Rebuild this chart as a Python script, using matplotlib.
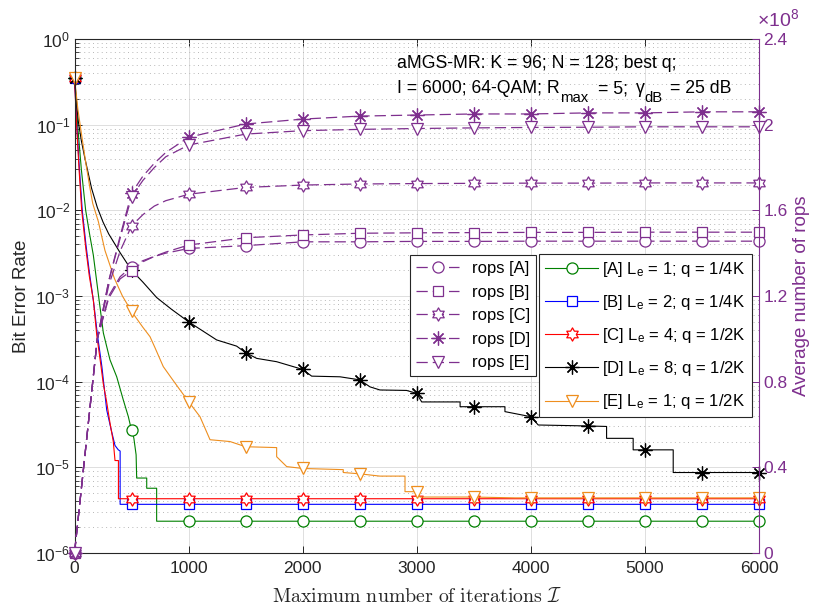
import numpy as np
import matplotlib
matplotlib.use('Agg')
import matplotlib.pyplot as plt
from matplotlib.path import Path

plt.rcParams['font.family'] = ['Liberation Sans', 'DejaVu Sans']
plt.rcParams['mathtext.fontset'] = 'custom'
plt.rcParams['mathtext.rm'] = 'Liberation Sans'
plt.rcParams['mathtext.it'] = 'Liberation Sans:italic'
plt.rcParams['mathtext.bf'] = 'Liberation Sans:bold'
plt.rcParams['mathtext.sf'] = 'Liberation Sans'

# ---------------- data ----------------
# BER curves (left axis)
I_A = [0, 30, 60, 98, 130, 165, 209, 253, 311, 370, 428, 472, 500, 520, 540, 545, 633, 633, 720, 720,
       1000, 1500, 2000, 2500, 3000, 3500, 4000, 4500, 5000, 5500, 6000]
ber_A = [0.35, 0.09, 0.03, 0.01, 5.5e-3, 3.0e-3, 1.05e-3, 3.7e-4, 1.8e-4, 1.14e-4, 6.1e-5, 3.9e-5, 2.7e-5,
         2.2e-5, 1.4e-5, 7.5e-6, 7.5e-6, 5.7e-6, 5.7e-6] + [2.35e-6] * 12

I_B = [0, 20, 40, 68, 100, 130, 170, 200, 240, 282, 320, 355, 384, 400, 400, 500,
       1000, 1500, 2000, 2500, 3000, 3500, 4000, 4500, 5000, 5500, 6000]
ber_B = [0.35, 0.1, 0.035, 0.01, 4e-3, 1.9e-3, 8e-4, 3.6e-4, 1.5e-4, 4.7e-5, 2.8e-5, 1.8e-5, 1.6e-5,
         1.55e-5] + [3.7e-6] * 13

I_C = [0, 20, 40, 63, 100, 130, 165, 195, 230, 252, 280, 311, 340, 355, 385, 385, 500,
       1000, 1500, 2000, 2500, 3000, 3500, 4000, 4500, 5000, 5500, 6000]
ber_C = [0.35, 0.09, 0.03, 0.01, 3.5e-3, 1.7e-3, 9e-4, 3.5e-4, 1.6e-4, 9.5e-5, 6e-5, 3.3e-5, 2.0e-5,
         1.2e-5, 1.2e-5] + [4.3e-6] * 13

I_D = [0, 33, 60, 92, 150, 200, 250, 300, 400, 500, 600, 720, 850, 1000, 1100, 1246, 1421, 1500, 1597,
       1772, 2000, 2079, 2327, 2500, 2590, 2677, 2911, 3000, 3043, 3380, 3380, 3500, 3773, 3773, 4000,
       4065, 4500, 4664, 4664, 4897, 4897, 5000, 5248, 5248, 5500, 6000]
ber_D = [0.35, 0.11, 0.065, 0.04, 0.018, 0.0108, 7.3e-3, 5.3e-3, 3.2e-3, 2.0e-3, 1.45e-3, 9.6e-4, 7.0e-4,
         5.0e-4, 4.1e-4, 3.07e-4, 2.6e-4, 2.18e-4, 1.87e-4, 1.71e-4, 1.39e-4, 1.16e-4, 1.14e-4, 1.05e-4,
         8.7e-5, 8.0e-5, 7.9e-5, 7.3e-5, 5.8e-5, 5.8e-5, 5.1e-5, 5.1e-5, 5.1e-5, 4.47e-5, 3.9e-5,
         3.12e-5, 3.04e-5, 3.0e-5, 2.18e-5, 2.18e-5, 1.6e-5, 1.6e-5, 1.6e-5, 8.7e-6, 8.7e-6, 8.7e-6]

I_E = [0, 30, 63, 100, 136, 160, 209, 267, 350, 420, 500, 600, 662, 705, 778, 850, 925, 1000, 1100, 1188,
       1363, 1500, 1772, 1772, 1860, 2000, 2356, 2356, 2500, 2677, 2897, 2897, 3000, 3028, 3500, 3861,
       4000, 4500, 5000, 5500, 6000]
ber_E = [0.35, 0.15, 0.075, 0.035, 0.018, 0.012, 7.4e-3, 3.4e-3, 1.6e-3, 1.0e-3, 6.6e-4, 4.3e-4, 3.35e-4,
         2.5e-4, 1.5e-4, 1.1e-4, 8e-5, 5.85e-5, 3.9e-5, 2.1e-5, 2.0e-5, 1.74e-5, 1.7e-5, 1.33e-5, 1.02e-5,
         9.7e-6, 9.4e-6, 8.7e-6, 8.4e-6, 7.9e-6, 7.9e-6, 5.2e-6, 5.2e-6, 4.5e-6, 4.5e-6, 4.4e-6, 4.4e-6,
         4.4e-6, 4.4e-6, 4.4e-6, 4.4e-6]

# average number of rops (right axis, in units of 1e8)
I_rops = [0, 100, 200, 300, 400, 500, 600, 700, 800, 1000, 1500, 2000, 2500, 3000, 3500, 4000,
          4500, 5000, 5500, 6000]
rops_A = [0, 0.5, 1.0, 1.20, 1.29, 1.337, 1.365, 1.385, 1.40, 1.422, 1.435, 1.453, 1.453, 1.455, 1.455,
          1.456, 1.456, 1.456, 1.456, 1.456]
rops_B = [0, 0.5, 1.0, 1.19, 1.28, 1.318, 1.36, 1.385, 1.405, 1.438, 1.472, 1.485, 1.493, 1.495, 1.496,
          1.497, 1.497, 1.498, 1.498, 1.498]
rops_C = [0, 0.5, 1.0, 1.25, 1.41, 1.527, 1.58, 1.62, 1.645, 1.675, 1.707, 1.718, 1.723, 1.725, 1.726,
          1.727, 1.727, 1.728, 1.728, 1.728]
rops_D = [0, 0.5, 1.0, 1.27, 1.48, 1.68, 1.76, 1.82, 1.87, 1.941, 2.003, 2.026, 2.040, 2.045, 2.05,
          2.05, 2.055, 2.055, 2.06, 2.06]
rops_E = [0, 0.5, 1.0, 1.27, 1.47, 1.663, 1.74, 1.80, 1.85, 1.905, 1.956, 1.972, 1.978, 1.982, 1.985,
          1.987, 1.988, 1.99, 1.99, 1.99]

ber_labels = ['[A] L$_{\\mathrm{e}}$ = 1; q = 1/4K', '[B] L$_{\\mathrm{e}}$ = 2; q = 1/4K',
              '[C] L$_{\\mathrm{e}}$ = 4; q = 1/2K', '[D] L$_{\\mathrm{e}}$ = 8; q = 1/2K',
              '[E] L$_{\\mathrm{e}}$ = 1; q = 1/2K']
rops_labels = ['rops [A]', 'rops [B]', 'rops [C]', 'rops [D]', 'rops [E]']
x_ticks = [0, 1000, 2000, 3000, 4000, 5000, 6000]
r_ticks = [0, 0.4, 0.8, 1.2, 1.6, 2.0, 2.4]
r_ticklabels = ['0', '0.4', '0.8', '1.2', '1.6', '2', '2.4']

# ---------------- style ----------------
purple = '#7E2F8E'
green = '#008000'
blue = '#0000FF'
red = '#FF0000'
black = '#000000'
orange = '#EE8E1E'
axcol = '#262626'

# hexagram marker
ang = np.deg2rad(90 + 30 * np.arange(12))
rad = np.where(np.arange(12) % 2 == 0, 1.0, 1 / np.sqrt(3))
verts = np.column_stack([rad * np.cos(ang), rad * np.sin(ang)])
verts = np.vstack([verts, verts[:1]])
hexagram = Path(verts, [Path.MOVETO] + [Path.LINETO] * 11 + [Path.CLOSEPOLY])
asterisk = (8, 2, 0)


def marks(I):
    return [i for i, v in enumerate(I) if v % 500 == 0 and (i == 0 or I[i - 1] != v)]


fig = plt.figure(figsize=(8.14, 6.09), dpi=100)
L, Rr, T, B = 74.5, 759, 39, 553
ax = fig.add_axes([L / 814, 1 - B / 609, (Rr - L) / 814, (B - T) / 609])
ax2 = ax.twinx()

series = [(I_A, ber_A, green, 'o', 8), (I_B, ber_B, blue, 's', 7.5), (I_C, ber_C, red, hexagram, 9.5),
          (I_D, ber_D, black, asterisk, 10), (I_E, ber_E, orange, 'v', 9)]
ber_handles = []
for (I, b, c, m, ms), lab in zip(series, ber_labels):
    h, = ax.plot(I, b, color=c, lw=0.8, marker=m, ms=ms, mfc='w', mec=c, mew=0.9,
                 markevery=marks(I), clip_on=False, label=lab)
    ber_handles.append(h)

rops = [rops_A, rops_B, rops_C, rops_D, rops_E]
rmk = [('o', 8), ('s', 7.5), (hexagram, 9.5), (asterisk, 10), ('v', 9)]
rops_handles = []
for r, (m, ms), lab in zip(rops, rmk, rops_labels):
    h, = ax2.plot(I_rops, np.array(r) * 1e8, color=purple, lw=0.9, ls=(0, (9, 4)), marker=m, ms=ms,
                  mfc='w', mec=purple, mew=0.9, markevery=marks(I_rops), clip_on=False, label=lab)
    rops_handles.append(h)

# axes, scales
ax.set_yscale('log')
ax.set_ylim(1e-6, 1)
ax.set_xlim(0, 6000)
ax.set_xticks(x_ticks)
ax.set_xticklabels([str(v) for v in x_ticks])
ax2.set_ylim(0, 2.4e8)
ax2.set_yticks(np.array(r_ticks) * 1e8)
ax2.set_yticklabels(r_ticklabels)

ax.grid(True, which='major', color='#dedede', lw=0.7, ls='-')
ax.grid(True, which='minor', axis='y', color='#b8b8b8', lw=0.7, ls=(0, (1, 3.5)))
ax.set_axisbelow(True)

ax.tick_params(axis='both', which='both', direction='in', colors=axcol, labelsize=12.5)
ax.tick_params(axis='x', which='major', top=True, length=5, width=0.7, pad=6)
ax.tick_params(axis='y', which='major', right=False, length=5, width=0.7, pad=3)
ax.tick_params(axis='y', which='minor', right=False, length=2.8, width=0.6)
ax2.tick_params(axis='y', direction='in', colors=purple, labelsize=12.5, length=5, width=0.7, pad=3)

for s in ['left', 'top', 'bottom']:
    ax.spines[s].set_color(axcol)
    ax.spines[s].set_linewidth(0.8)
ax.spines['right'].set_visible(False)
for s in ['left', 'top', 'bottom']:
    ax2.spines[s].set_visible(False)
ax2.spines['right'].set_color(purple)
ax2.spines['right'].set_linewidth(0.8)

ax.set_ylabel('Bit Error Rate', fontsize=13.5, color=axcol, labelpad=4)
ax2.set_ylabel('Average number of rops', fontsize=13.5, color=purple, labelpad=4)
ax.set_xlabel(r'$\mathrm{Maximum\ number\ of\ iterations}\ \mathcal{I}$', fontsize=14.3,
              math_fontfamily='cm', color=axcol, labelpad=8)

ax2.text(0.997, 1.018, r'$\times10^{8}$', transform=ax2.transAxes, ha='left', va='bottom',
         color=purple, fontsize=14)

# annotation (two lines, second with large subscripts)
fs_main, fs_sub, drop = 12.7, 10.7, -6.5
fig.text(397 / 814, 1 - 68.3 / 609, 'aMGS-MR: K = 96; N = 128; best q;', ha='left', va='baseline',
         fontsize=fs_main, color='black')
y2 = 1 - 93.3 / 609
prev = fig.text(397 / 814, y2, 'I = 6000; 64-QAM; R', ha='left', va='baseline', fontsize=fs_main,
                color='black')
pieces = [('max', fs_sub, 0.3, drop), ('= 5;', fs_main, 7.0, 0), ('γ', fs_main, 5.5, 0),
          ('dB', fs_sub, 0.2, drop), ('= 25 dB', fs_main, 4.8, 0)]
for s, fs, dx, dy in pieces:
    prev = ax2.annotate(s, xy=(1.0, y2), xycoords=(prev, 'figure fraction'), xytext=(dx, dy),
                        textcoords='offset points', ha='left', va='baseline', fontsize=fs,
                        color='black', annotation_clip=False)

leg1 = ax2.legend(handles=rops_handles, loc='upper left', bbox_to_anchor=(410 / 814, 1 - 255 / 609),
                  bbox_transform=fig.transFigure, borderaxespad=0, fontsize=12, frameon=True,
                  fancybox=False, framealpha=1, edgecolor=axcol, handlelength=2.6, handletextpad=0.8,
                  labelspacing=0.52, borderpad=0.35)
leg1.get_frame().set_linewidth(0.8)
leg1.set_zorder(20)
ax2.add_artist(leg1)
leg2 = ax2.legend(handles=ber_handles, loc='upper left', bbox_to_anchor=(539 / 814, 1 - 254 / 609),
                  bbox_transform=fig.transFigure, borderaxespad=0, fontsize=12, frameon=True,
                  fancybox=False, framealpha=1, edgecolor=axcol, handlelength=3.2, handletextpad=0.25,
                  labelspacing=0.85, borderpad=0.35)
leg2.get_frame().set_linewidth(0.8)
leg2.set_zorder(20)

fig.savefig('out.png', dpi=100)
